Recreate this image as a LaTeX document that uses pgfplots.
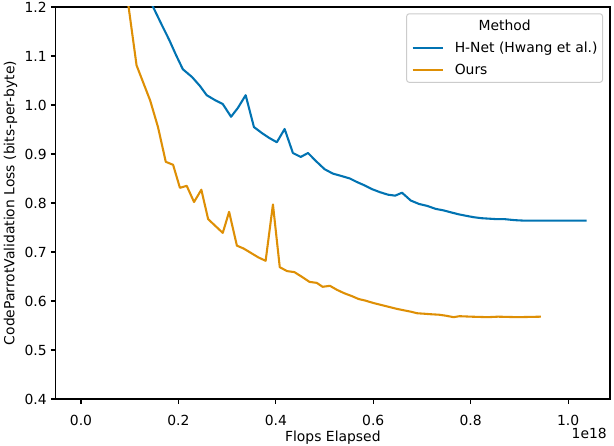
\documentclass[border=0pt]{standalone}
\usepackage{fontspec}
\setmainfont{DejaVu Sans}
\usepackage{pgfplots}
\pgfplotsset{compat=1.18}
\definecolor{cbblue}{HTML}{0173B2}
\definecolor{cborange}{HTML}{DE8F05}
\newcommand\mpl{\fontsize{13.9bp}{16.7bp}\selectfont}

\pgfplotstableread{
x y
0.117 1.270
0.133 1.229
0.148 1.200
0.166 1.163
0.181 1.133
0.195 1.102
0.209 1.073
0.228 1.057
0.244 1.039
0.258 1.020
0.275 1.010
0.291 1.002
0.308 0.976
0.322 0.994
0.338 1.020
0.355 0.955
0.371 0.943
0.386 0.933
0.402 0.924
0.418 0.951
0.435 0.902
0.451 0.894
0.466 0.902
0.484 0.884
0.500 0.869
0.517 0.860
0.535 0.855
0.552 0.850
0.566 0.843
0.582 0.836
0.598 0.828
0.614 0.822
0.630 0.817
0.645 0.815
0.659 0.821
0.677 0.805
0.694 0.798
0.711 0.794
0.728 0.788
0.744 0.785
0.759 0.781
0.775 0.777
0.790 0.774
0.806 0.771
0.822 0.769
0.838 0.768
0.854 0.767
0.870 0.767
0.890 0.765
0.910 0.764
0.940 0.764
0.970 0.764
1.000 0.764
1.038 0.764
}\hnet

\pgfplotstableread{
x y
0.082 1.550
0.097 1.205
0.114 1.081
0.142 1.009
0.158 0.955
0.174 0.884
0.189 0.878
0.203 0.831
0.217 0.835
0.232 0.802
0.247 0.827
0.261 0.767
0.291 0.739
0.304 0.782
0.320 0.713
0.334 0.707
0.364 0.689
0.379 0.682
0.394 0.797
0.408 0.669
0.423 0.661
0.438 0.659
0.454 0.649
0.469 0.639
0.484 0.637
0.496 0.629
0.511 0.631
0.525 0.623
0.540 0.616
0.556 0.610
0.570 0.604
0.583 0.601
0.600 0.596
0.616 0.592
0.632 0.588
0.648 0.584
0.663 0.581
0.678 0.578
0.690 0.575
0.705 0.574
0.718 0.573
0.735 0.572
0.749 0.570
0.765 0.567
0.777 0.569
0.801 0.568
0.835 0.567
0.856 0.568
0.897 0.567
0.944 0.568
}\ours

\begin{document}
\begin{tikzpicture}
\begin{axis}[
  width=554.3bp, height=392bp, scale only axis,
  xmin=-0.052, xmax=1.086, ymin=0.4, ymax=1.2,
  xtick={0,0.2,0.4,0.6,0.8,1.0},
  xticklabels={0.0,0.2,0.4,0.6,0.8,1.0},
  ytick={0.4,0.5,0.6,0.7,0.8,0.9,1.0,1.1,1.2},
  yticklabels={0.4,0.5,0.6,0.7,0.8,0.9,1.0,1.1,1.2},
  scaled x ticks=false, scaled y ticks=false,
  tick align=outside, tick pos=left,
  major tick length=4.86bp,
  every tick/.style={black, line width=1.11bp},
  axis line style={line width=1.11bp},
  tick label style={font=\mpl},
  xticklabel style={anchor=base, inner sep=0pt, yshift=-22bp},
  yticklabel style={anchor=east, inner sep=0pt, xshift=-4bp},
  xlabel={Flops Elapsed},
  ylabel={CodeParrotValidation Loss (bits-per-byte)},
  xlabel style={font=\mpl, at={([yshift=-42bp]rel axis cs:0.5,0)}, anchor=base, inner sep=0pt},
  ylabel style={font=\mpl, at={([xshift=-41.2bp]rel axis cs:0,0.5)}, anchor=base, inner sep=0pt},
  legend style={name=leg, at={(1,1)}, anchor=north east, xshift=-7bp, yshift=-6.3bp,
    draw=black!20, line width=1bp, rounded corners=2.5bp, fill=white, fill opacity=0.8, text opacity=1,
    font=\mpl, inner xsep=5bp, inner ysep=5.8bp, row sep=8.2bp, column sep=11bp,
    nodes={inner sep=0pt, text height=11.6bp, text depth=1.9bp}},
  legend cell align=left,
  legend image code/.code={\draw[#1, line width=2.08bp] (0bp,0bp) -- (30bp,0bp);},
]
\addlegendimage{empty legend}
\addlegendentry{\hphantom{M}}
\addplot[cbblue, line width=2.08bp, line join=round] table[x=x, y=y] {\hnet};
\addlegendentry{H-Net (Hwang et al.)}
\addplot[cborange, line width=2.08bp, line join=round] table[x=x, y=y] {\ours};
\addlegendentry{Ours}
\end{axis}
\node[font=\mpl, anchor=base, inner sep=0pt] at ([yshift=-17.4bp]leg.north) {Method};
\node[font=\mpl, anchor=base east, inner sep=0pt] at ([xshift=-3bp, yshift=-39bp]current axis.south east) {1e18};
\pgfresetboundingbox
\path ([xshift=-55.7bp,yshift=-47bp]current axis.south west) rectangle ([xshift=4bp,yshift=7bp]current axis.north east);
\end{tikzpicture}
\end{document}
